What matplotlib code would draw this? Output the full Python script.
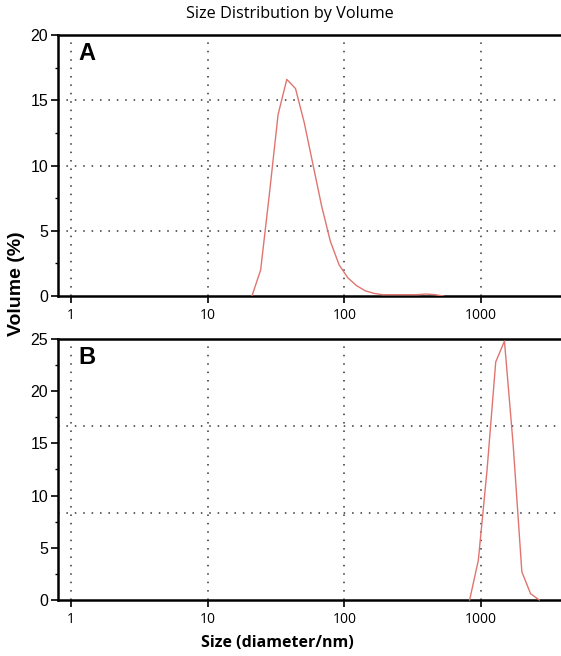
import matplotlib
matplotlib.use('Agg')
import matplotlib.pyplot as plt
from matplotlib.ticker import FixedLocator, NullFormatter

# size bins (nm) and volume (%)
size_a = [21.04, 24.36, 28.21, 32.67, 37.84, 43.82, 50.75, 58.77, 68.06, 78.82,
          91.28, 105.7, 122.4, 141.8, 164.2, 190.1, 220.2, 255.0, 295.3, 342.0,
          396.1, 458.7, 531.2]
vol_a = [0.0, 2.0, 7.8, 13.9, 16.6, 15.9, 13.3, 10.1, 6.9, 4.2,
         2.4, 1.4, 0.8, 0.4, 0.2, 0.1, 0.1, 0.1, 0.1, 0.1,
         0.15, 0.1, 0.0]

size_b = [825.0, 955.4, 1106, 1281, 1484, 1718, 1990, 2305, 2669]
vol_b = [0.0, 3.8, 12.4, 22.8, 24.8, 14.9, 2.7, 0.6, 0.0]

x_ticks = [1, 10, 100, 1000]
x_labels = ['1', '10', '100', '1000']
y_ticks_a = [0, 5, 10, 15, 20]
y_grid_a = [5, 10, 15]
y_ticks_b = [0, 5, 10, 15, 20, 25]
y_grid_b = [25 / 3, 50 / 3]

line_col = '#e07570'
fig = plt.figure(figsize=(5.61, 6.56), dpi=100)

def setup(ax, yticks, ygrid, ymax, label):
    ax.set_xscale('log')
    ax.set_xlim(0.8, 3850)
    ax.set_ylim(0, ymax)
    for s in ['left', 'bottom', 'top']:
        ax.spines[s].set_linewidth(1.8)
    ax.spines['right'].set_visible(False)
    ax.xaxis.set_major_locator(FixedLocator(x_ticks))
    ax.xaxis.set_minor_locator(FixedLocator([]))
    ax.set_xticklabels(x_labels, fontfamily='Open Sans', fontsize=10)
    ax.set_yticks(yticks)
    ax.set_yticklabels([str(t) for t in yticks], fontfamily='Liberation Sans', fontsize=11.5)
    ax.yaxis.set_minor_locator(FixedLocator([t + 2.5 for t in yticks[:-1]]))
    ax.yaxis.set_minor_formatter(NullFormatter())
    ax.tick_params(axis='both', which='major', direction='out', length=5, width=1.2, pad=2)
    ax.tick_params(axis='y', which='minor', direction='out', length=2.5, width=1)
    ax.tick_params(axis='x', pad=4)
    for x in x_ticks:
        ax.axvline(x, color='#333333', lw=1.1, ls=(0, (1, 4.5)), zorder=1)
    for y in ygrid:
        ax.axhline(y, color='#333333', lw=1.1, ls=(0, (1, 4.5)), zorder=1)
    ax.text(0.041, 0.929, label, transform=ax.transAxes, fontsize=17, fontweight='bold',
            fontfamily='Liberation Sans', va='center', ha='left')

ax_a = fig.add_axes([0.1034, 0.5488, 0.8966, 0.3978])
ax_a.plot(size_a, vol_a, color=line_col, lw=1.0, zorder=3)
setup(ax_a, y_ticks_a, y_grid_a, 20, 'A')

ax_b = fig.add_axes([0.1034, 0.0854, 0.8966, 0.3978])
ax_b.plot(size_b, vol_b, color=line_col, lw=1.0, zorder=3, clip_on=False)
setup(ax_b, y_ticks_b, y_grid_b, 25, 'B')

fig.text(0.517, 0.979, 'Size Distribution by Volume', ha='center', va='center',
         fontfamily='Open Sans', fontsize=11.7)
fig.text(0.494, 0.020, 'Size (diameter/nm)', ha='center', va='center',
         fontfamily='Open Sans', fontweight='bold', fontsize=11.5)
fig.text(0.030, 0.568, 'Volume (%)', ha='center', va='center', rotation=90,
         fontfamily='Liberation Sans', fontweight='bold', fontsize=14)

fig.savefig('out.png', dpi=100)
